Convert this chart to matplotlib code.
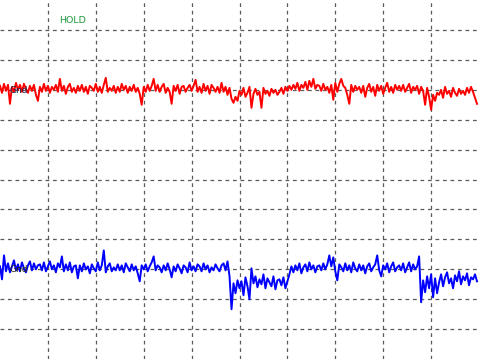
import numpy as np
import matplotlib
matplotlib.use("Agg")
import matplotlib.pyplot as plt

# scope screen: 10 x 12 divisions, 30 ADC codes per division
CODES_PER_DIV = 30.0
n_xdiv, n_ydiv = 10, 12

# channel positions (divisions from screen centre)
ch1_pos = 3.03
ch2_pos = -2.97

# captured samples in ADC codes relative to channel position (240 per sweep)
ch1_codes = [
    3, -4, 5, -2, 4, -15, 2, -3, 6, -1, 4, -3, 5, 0, -4, 3, -2, 4, -6, -12,
    2, -3, 5, -2, 3, -4, 2, -1, 4, -3, 10, -2, 3, -5, 2, 5, -3, 1, -4, 3,
    -2, 4, -3, 2, -5, 3, 1, -2, 5, -3, 2, -4, 4, 11, -3, 1, -2, 3, -4, 2,
    -3, 5, -1, 3, -4, 2, -2, 4, -3, 1, -5, -16, 2, -3, 4, -2, 3, 10, -2, 4,
    -3, 2, 5, -4, 1, -3, -15, 3, -2, 4, -5, 2, 3, -3, 1, 4, -2, 3, 9, -3,
    2, -4, 5, -2, 3, -5, 4, 1, -3, 2, -4, 6, -3, 2, -6, 1, -10, -14, -8, -12,
    -2, -6, 1, -8, -4, 2, -19, -5, 0, -6, -3, -19, 1, -5, -2, -7, 0, -4, -1, -6,
    -3, 1, -5, 2, -2, 3, -1, 4, 0, 6, -2, 4, 1, 7, -1, 8, 2, 10, 0, 4,
    3, -2, 5, -1, 2, -4, 4, -11, 6, -3, 5, 10, 3, 1, -6, -15, 4, -3, 3, -1,
    2, -4, 3, -8, 1, 5, -3, 2, -7, 4, -2, 3, -5, 1, 6, -3, 2, -4, 4, -1,
    3, -2, 4, -3, 1, 5, -4, 2, -1, 3, -5, 2, -2, -16, 1, -8, -21, -6, -12, -4,
    -6, -1, -9, 2, -5, -2, -8, 1, -4, -7, 0, -5, -2, -6, 1, -4, 2, -3, -9, -15,
]

ch2_codes = [
    2, -11, 13, -3, 5, -4, 2, 8, -2, 4, -3, 6, 0, -4, 3, 7, -2, 5, -1, 3,
    4, -2, 6, -3, 2, 7, -1, 3, -4, 5, 1, 12, -3, 4, -2, 6, -4, 2, 3, -10,
    3, -3, 5, -1, 2, -5, 4, 0, -3, 6, -2, 3, 18, -4, 2, 5, -3, 1, -2, 4,
    -2, 3, -4, 5, 1, -3, 4, -2, 2, -5, -13, 3, -1, 4, -3, 2, 6, 12, -2, 3,
    1, -4, 3, -2, 5, -1, -9, 2, -3, 4, 0, -5, 3, 1, -4, 6, -2, 2, -3, 4,
    2, -3, 5, -1, 3, -4, 1, -2, 4, 0, -3, 3, 5, -2, 7, -8, -41, -15, -25, -12,
    -20, -13, -27, -9, -18, -31, 0, -15, -8, -19, -11, -16, -6, -20, -10, -14, -18, -8, -21, -12,
    -11, -17, -9, -20, -13, -6, 2, -4, 3, -2, 5, -5, 1, 4, -3, 6, -1, 3, -4, 2,
    3, -2, 5, -1, 4, 13, 2, 11, -3, -12, 4, 1, -3, 5, -2, 3, -4, 6, 0, -3,
    4, -2, 3, -5, 2, 5, -3, 1, 4, 13, -2, -8, 3, -1, 5, -4, 2, 6, -3, 1,
    3, -2, 5, -4, 1, 6, -3, 4, -1, 2, 12, -34, -12, -24, -8, -20, -6, -29, -10, -25,
    -14, -6, -18, -9, -4, -15, -10, -20, -7, -13, -3, -16, -8, -12, -5, -17, -9, -11, -6, -13,
]

status_text = "HOLD"
ground_label = "Gnd"


def to_div(codes, pos):
    return pos + np.asarray(codes, dtype=float) / CODES_PER_DIV


t = np.arange(len(ch1_codes)) * n_xdiv / len(ch1_codes)

fig = plt.figure(figsize=(4.79, 3.59), dpi=100)
ax = fig.add_axes([0, 0, 1, 1])
ax.set_xlim(0, n_xdiv)
ax.set_ylim(-n_ydiv / 2, n_ydiv / 2)

for xv in range(1, n_xdiv):
    ax.axvline(xv, color="#5a5a5a", lw=0.9, linestyle=(0, (3, 3)), zorder=1)
for yv in range(-n_ydiv // 2 + 1, n_ydiv // 2):
    ax.axhline(yv, color="#5a5a5a", lw=0.9, linestyle=(0, (3, 3)), zorder=1)

ax.plot(t, to_div(ch1_codes, ch1_pos), color="#ff0000", lw=1.4, zorder=2)
ax.plot(t, to_div(ch2_codes, ch2_pos), color="#0000ff", lw=1.4, zorder=2)

ax.text(0.2, ch1_pos - 0.05, ground_label, fontsize=6.5, color="#1c2450",
        va="center", ha="left", zorder=3)
ax.text(0.2, ch2_pos - 0.05, ground_label, fontsize=6.5, color="#2a2a10",
        va="center", ha="left", zorder=3)
ax.text(0.123, 0.943, status_text, transform=ax.transAxes, fontsize=6.8,
        color="#1e9a3c", va="center", ha="left")

ax.set_xticks([])
ax.set_yticks([])
for s in ax.spines.values():
    s.set_visible(False)

fig.savefig("out.png", dpi=100)
